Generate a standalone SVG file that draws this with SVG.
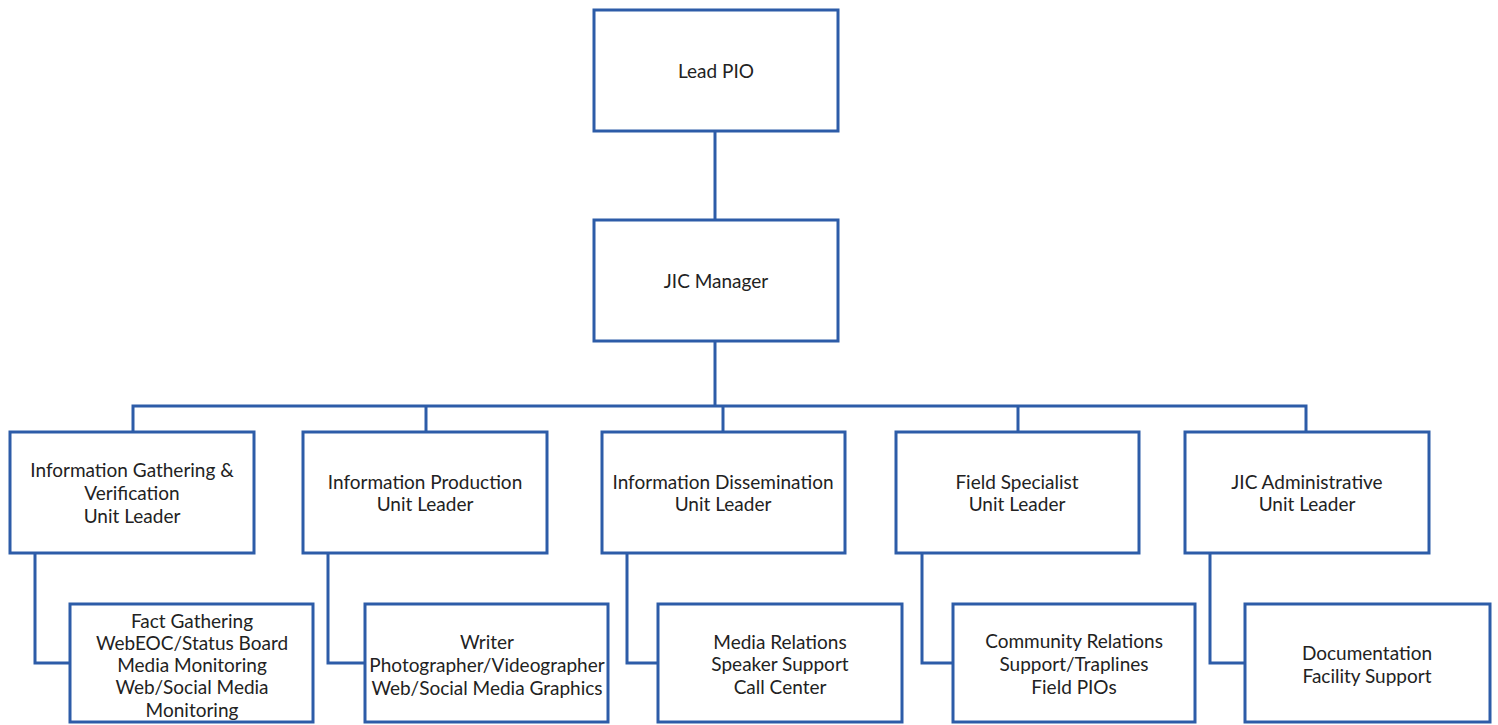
<svg xmlns="http://www.w3.org/2000/svg" width="1498" height="725" viewBox="0 0 1498 725">
  <style>
    .box { fill: #ffffff; stroke: #2d5ca8; stroke-width: 3; }
    .wire { fill: none; stroke: #2d5ca8; stroke-width: 3; stroke-linejoin: miter; }
    .lbl { font-family: Lato, "Open Sans", sans-serif; font-size: 19px; fill: #222222; text-anchor: middle; dominant-baseline: central; }
  </style>
  <rect width="1498" height="725" fill="#ffffff"/>

  <!-- connectors -->
  <g id="connectors">
    <path class="wire" d="M715 131 V219"/>
    <path class="wire" d="M715 341 V406"/>
    <path class="wire" d="M133 432 V406 H1306 V432"/>
    <path class="wire" d="M426 406 V432"/>
    <path class="wire" d="M723 406 V432"/>
    <path class="wire" d="M1018 406 V432"/>
    <path class="wire" d="M35 553 V663 H70"/>
    <path class="wire" d="M328 553 V663 H365"/>
    <path class="wire" d="M627 553 V663 H658"/>
    <path class="wire" d="M922 553 V663 H953"/>
    <path class="wire" d="M1210 553 V663 H1245"/>
  </g>

  <!-- top level -->
  <g id="lead-pio">
    <rect class="box" x="594" y="10" width="244" height="121"/>
    <text class="lbl" x="716" y="70">Lead PIO</text>
  </g>
  <g id="jic-manager">
    <rect class="box" x="594" y="220" width="244" height="121"/>
    <text class="lbl" x="716" y="280">JIC Manager</text>
  </g>

  <!-- unit leaders -->
  <g id="gathering-leader">
    <rect class="box" x="10" y="432" width="244" height="121"/>
    <text class="lbl" x="132" y="469">Information Gathering &amp;</text>
    <text class="lbl" x="132" y="492">Verification</text>
    <text class="lbl" x="132" y="515">Unit Leader</text>
  </g>
  <g id="production-leader">
    <rect class="box" x="303" y="432" width="244" height="121"/>
    <text class="lbl" x="425" y="481">Information Production</text>
    <text class="lbl" x="425" y="503">Unit Leader</text>
  </g>
  <g id="dissemination-leader">
    <rect class="box" x="602" y="432" width="243" height="121"/>
    <text class="lbl" x="723" y="481">Information Dissemination</text>
    <text class="lbl" x="723" y="503">Unit Leader</text>
  </g>
  <g id="field-leader">
    <rect class="box" x="896" y="432" width="243" height="121"/>
    <text class="lbl" x="1017" y="481">Field Specialist</text>
    <text class="lbl" x="1017" y="503">Unit Leader</text>
  </g>
  <g id="admin-leader">
    <rect class="box" x="1185" y="432" width="244" height="121"/>
    <text class="lbl" x="1307" y="481">JIC Administrative</text>
    <text class="lbl" x="1307" y="503">Unit Leader</text>
  </g>

  <!-- staff positions -->
  <g id="gathering-staff">
    <rect class="box" x="70" y="604" width="243" height="118"/>
    <text class="lbl" x="192" y="620">Fact Gathering</text>
    <text class="lbl" x="192" y="642">WebEOC/Status Board</text>
    <text class="lbl" x="192" y="664">Media Monitoring</text>
    <text class="lbl" x="192" y="686">Web/Social Media</text>
    <text class="lbl" x="192" y="709">Monitoring</text>
  </g>
  <g id="production-staff">
    <rect class="box" x="365" y="604" width="243" height="118"/>
    <text class="lbl" x="487" y="641">Writer</text>
    <text class="lbl" x="487" y="664">Photographer/Videographer</text>
    <text class="lbl" x="487" y="687">Web/Social Media Graphics</text>
  </g>
  <g id="dissemination-staff">
    <rect class="box" x="658" y="604" width="244" height="118"/>
    <text class="lbl" x="780" y="641">Media Relations</text>
    <text class="lbl" x="780" y="663">Speaker Support</text>
    <text class="lbl" x="780" y="686">Call Center</text>
  </g>
  <g id="field-staff">
    <rect class="box" x="953" y="604" width="242" height="118"/>
    <text class="lbl" x="1074" y="640">Community Relations</text>
    <text class="lbl" x="1074" y="663">Support/Traplines</text>
    <text class="lbl" x="1074" y="686">Field PIOs</text>
  </g>
  <g id="admin-staff">
    <rect class="box" x="1245" y="604" width="245" height="118"/>
    <text class="lbl" x="1367" y="652">Documentation</text>
    <text class="lbl" x="1367" y="675">Facility Support</text>
  </g>
</svg>
